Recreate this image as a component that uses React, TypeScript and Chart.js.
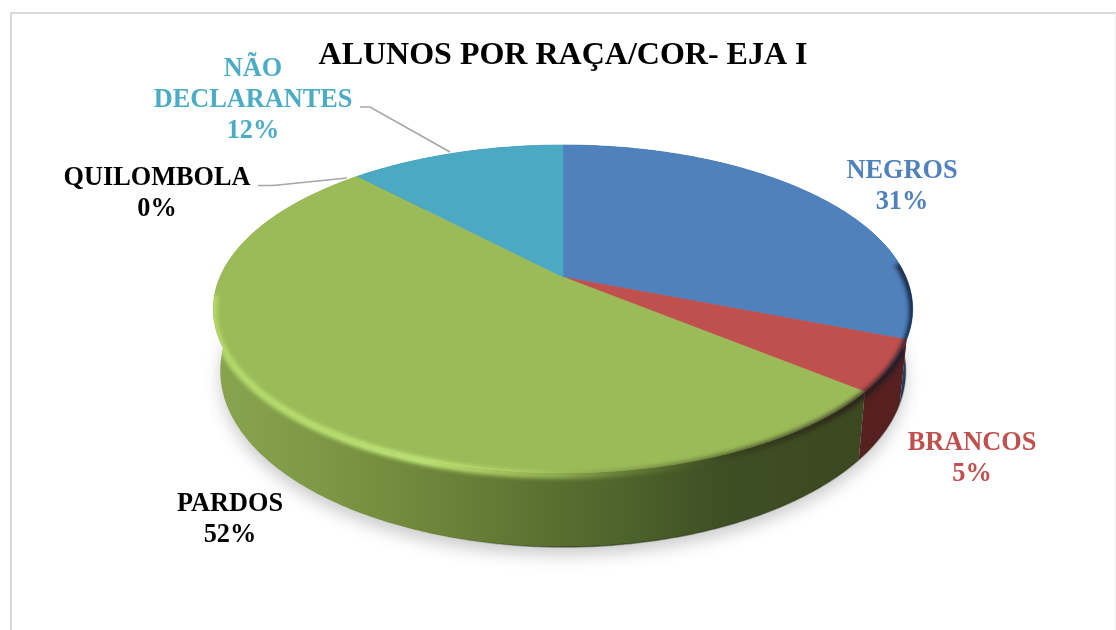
import React, { useEffect, useRef } from "react";
import { Chart, registerables } from "chart.js";

Chart.register(...registerables);

const categories = ["NEGROS", "BRANCOS", "PARDOS", "QUILOMBOLA", "NÃO DECLARANTES"];
const percentages = [31, 5, 52, 0, 12];
const topColors = ["#4f81bd", "#c0504d", "#9bbb59", "#8064a2", "#4ba9c4"];
const sideColors = ["#1d3c62", "#55201f", "#3e4a22", "#3d2f52", "#1f5a6a"];
const labelColors = ["#4f81bd", "#c0504d", "#000000", "#000000", "#4bacc6"];
const titleText = "ALUNOS POR RAÇA/COR- EJA I";

const labelLines = [["NEGROS"], ["BRANCOS"], ["PARDOS"], ["QUILOMBOLA"], ["NÃO", "DECLARANTES"]];
const labelAnchors = [
  [902, 171],
  [972, 443],
  [230, 504],
  [157, 178],
  [253, 69],
];
const leaderLines = [
  [[258, 185.5], [273, 185.5], [347, 178]],
  [[360, 107], [370, 107], [450, 152]],
];

const CX = 563;
const CY = 277;
const RX = 343;
const RY = 157.8;
const PERSP = 0.195;
const DEPTH = 74;

function topPoint(ang: number) {
  const X = Math.cos(ang);
  const Y = Math.sin(ang);
  const d = 1 - PERSP * Y;
  return [CX + (RX * X) / d, CY + (RY * Y) / d];
}
function bottomPoint(ang: number) {
  const Y = Math.sin(ang);
  const d = 1 - PERSP * Y;
  const [x, y] = topPoint(ang);
  return [CX + (x - CX) * 0.98, y + (DEPTH * (1 - PERSP)) / d];
}
function samples(a0: number, a1: number) {
  const n = Math.max(2, Math.ceil(Math.abs(a1 - a0) / 0.01));
  const out: number[] = [];
  for (let i = 0; i <= n; i++) out.push(a0 + ((a1 - a0) * i) / n);
  return out;
}
function polyline(ctx: CanvasRenderingContext2D, pts: number[][], move = true) {
  pts.forEach((p, i) => {
    if (i === 0 && move) ctx.moveTo(p[0], p[1]);
    else ctx.lineTo(p[0], p[1]);
  });
}

const piePlugin = {
  id: "perspectivePie",
  beforeDraw(chart: any) {
    const ctx = chart.ctx as CanvasRenderingContext2D;
    ctx.save();
    ctx.fillStyle = "#ffffff";
    ctx.fillRect(0, 0, chart.width, chart.height);
    ctx.strokeStyle = "#d9d9d9";
    ctx.lineWidth = 2;
    ctx.beginPath();
    ctx.moveTo(11, 630);
    ctx.lineTo(11, 13);
    ctx.lineTo(1116, 13);
    ctx.stroke();
    ctx.strokeStyle = "#efefef";
    ctx.lineWidth = 1;
    ctx.beginPath();
    ctx.moveTo(1115.5, 13);
    ctx.lineTo(1115.5, 630);
    ctx.stroke();
    ctx.restore();
  },
  beforeDatasetDraw(chart: any, args: any) {
    const ctx = chart.ctx as CanvasRenderingContext2D;
    const arcs = args.meta.data as any[];
    const all = samples(-Math.PI / 2, (3 * Math.PI) / 2);

    // soft floor shadow
    ctx.save();
    ctx.filter = "blur(8px)";
    ctx.fillStyle = "rgba(0,0,0,0.2)";
    ctx.beginPath();
    polyline(ctx, all.map((a) => {
      const p = bottomPoint(a);
      return [p[0], p[1] + 8];
    }));
    ctx.closePath();
    ctx.fill();
    ctx.restore();

    // extruded side of each slice
    const edge = ctx.createLinearGradient(213, 0, 913, 0);
    edge.addColorStop(0, "rgba(30,40,15,0)");
    edge.addColorStop(0.3, "rgba(30,40,15,0)");
    edge.addColorStop(0.5, "rgba(30,40,15,0.5)");
    edge.addColorStop(1, "rgba(30,40,15,0.3)");
    arcs.forEach((arc, i) => {
      if (arc.endAngle - arc.startAngle <= 0) return;
      const list = samples(arc.startAngle, arc.endAngle);
      ctx.save();
      let fill: any = sideColors[i];
      if (percentages[i] === 52) {
        const g = ctx.createLinearGradient(213, 0, 865, 0);
        g.addColorStop(0, "#88a54e");
        g.addColorStop(0.14, "#7f9a47");
        g.addColorStop(0.36, "#6b8339");
        g.addColorStop(0.5, "#5b7232");
        g.addColorStop(0.64, "#4c622b");
        g.addColorStop(0.78, "#3f4f24");
        g.addColorStop(1, "#3b4820");
        fill = g;
      }
      ctx.fillStyle = fill;
      ctx.beginPath();
      polyline(ctx, list.map(topPoint));
      polyline(ctx, list.slice().reverse().map(bottomPoint), false);
      ctx.closePath();
      ctx.fill();
      ctx.strokeStyle = edge;
      ctx.lineWidth = 1.5;
      ctx.beginPath();
      polyline(ctx, list.map(bottomPoint));
      ctx.stroke();
      ctx.restore();
    });

    // top face of each slice
    arcs.forEach((arc, i) => {
      if (arc.endAngle - arc.startAngle <= 0) return;
      ctx.save();
      ctx.fillStyle = topColors[i];
      ctx.strokeStyle = topColors[i];
      ctx.lineWidth = 0.6;
      ctx.beginPath();
      ctx.moveTo(CX, CY);
      polyline(ctx, samples(arc.startAngle, arc.endAngle).map(topPoint), false);
      ctx.closePath();
      ctx.fill();
      ctx.stroke();
      ctx.restore();
    });

    // bevel along the front rim, spilling softly onto the side
    ctx.save();
    const front = samples(0, Math.PI);
    ctx.beginPath();
    polyline(ctx, all.map(topPoint));
    ctx.closePath();
    polyline(ctx, front.map(topPoint));
    polyline(ctx, front.slice().reverse().map(bottomPoint), false);
    ctx.closePath();
    ctx.clip();
    const bevel = ctx.createLinearGradient(213, 0, 913, 0);
    bevel.addColorStop(0, "rgba(185,225,110,0.9)");
    bevel.addColorStop(0.3, "rgba(205,245,130,0.9)");
    bevel.addColorStop(0.42, "rgba(190,225,110,0.75)");
    bevel.addColorStop(0.5, "rgba(155,187,89,0.85)");
    bevel.addColorStop(0.6, "rgba(110,135,60,0.7)");
    bevel.addColorStop(0.75, "rgba(50,60,28,0.7)");
    bevel.addColorStop(0.92, "rgba(40,25,25,0.75)");
    bevel.addColorStop(1, "rgba(15,30,55,0.9)");
    ctx.filter = "blur(2px)";
    ctx.strokeStyle = bevel;
    ctx.lineWidth = 7;
    ctx.beginPath();
    polyline(ctx, samples(-0.1, Math.PI - 0.1).map((a) => {
      const p = topPoint(a);
      return [p[0], p[1] + 2];
    }));
    ctx.stroke();
    ctx.restore();

    return false;
  },
  afterDatasetsDraw(chart: any) {
    const ctx = chart.ctx as CanvasRenderingContext2D;
    ctx.save();
    ctx.strokeStyle = "#a6a6a6";
    ctx.lineWidth = 1.6;
    leaderLines.forEach((line) => {
      ctx.beginPath();
      polyline(ctx, line);
      ctx.stroke();
    });
    ctx.font = 'bold 26.3px "Liberation Serif"';
    ctx.textAlign = "center";
    ctx.textBaseline = "middle";
    categories.forEach((_, i) => {
      const lines = [...labelLines[i], `${percentages[i]}%`];
      ctx.fillStyle = labelColors[i];
      lines.forEach((t, j) => {
        ctx.fillText(t, labelAnchors[i][0], labelAnchors[i][1] + j * 31);
      });
    });
    ctx.restore();
  },
};

export default function App() {
  const ref = useRef<HTMLCanvasElement>(null);
  useEffect(() => {
    const chart = new Chart(ref.current as HTMLCanvasElement, {
      type: "pie",
      data: {
        labels: categories,
        datasets: [{ data: percentages, backgroundColor: topColors, borderWidth: 0 }],
      },
      options: {
        animation: false,
        responsive: false,
        layout: { padding: { left: 10, right: 0, top: 0, bottom: 0 } },
        plugins: {
          legend: { display: false },
          tooltip: { enabled: false },
          title: {
            display: true,
            text: titleText,
            color: "#000000",
            font: { family: '"Liberation Serif"', size: 32, weight: "bold" },
            padding: { top: 37, bottom: 0 },
          },
        },
      } as any,
      plugins: [piePlugin as any],
    });
    return () => chart.destroy();
  }, []);
  return (
    <div style={{ position: "absolute", left: 0, top: 0, width: 1116, height: 630 }}>
      <canvas ref={ref} width={1116} height={630} style={{ display: "block" }} />
    </div>
  );
}
